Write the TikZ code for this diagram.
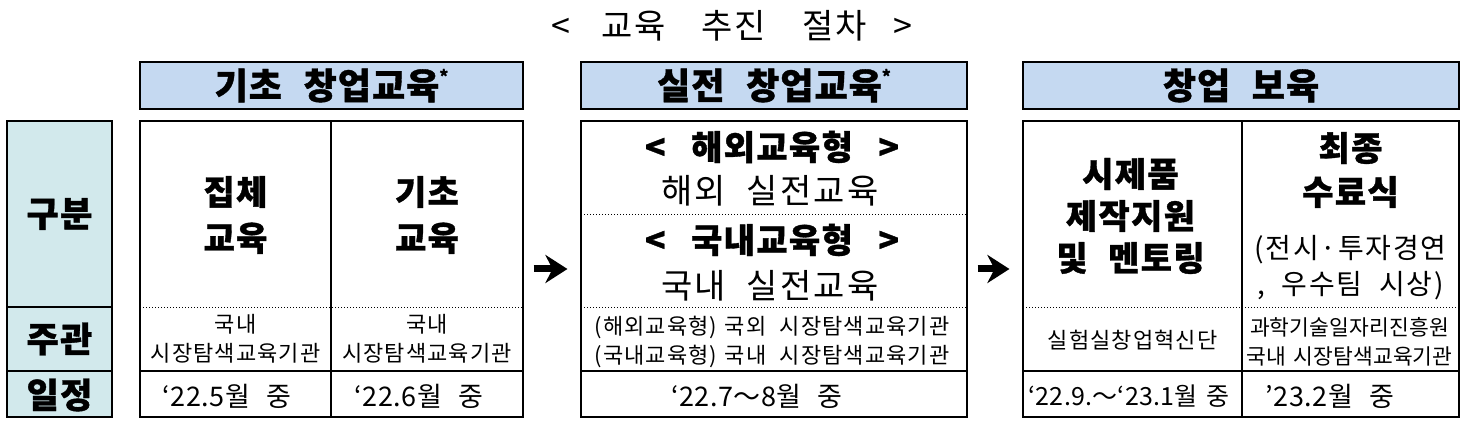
\documentclass[tikz,border=0pt]{standalone}
\usepackage{fontspec}
\setmainfont{Noto Sans CJK KR}
\usetikzlibrary{arrows.meta}
\definecolor{hdrblue}{HTML}{C5D9F1}
\definecolor{lblcyan}{HTML}{D2E9EC}
\newcommand\wsp{\hspace{0.35em}}
\newcommand\wwsp{\hspace{0.6em}}
\newcommand\smallstar{\raisebox{0.45em}{\fontsize{17}{17}\selectfont *}}
\begin{document}
\begin{tikzpicture}[x=1pt,y=-1pt,
  frame/.style={draw=black, line width=1.1pt, inner sep=0pt},
  hdrbox/.style={frame, fill=hdrblue, minimum height=47pt, font=\fontsize{36}{40}\selectfont\bfseries\addfontfeatures{LetterSpace=3,FakeBold=1}},
  secbox/.style={frame, minimum height=296pt},
  divline/.style={line width=1.1pt},
  dotline/.style={line width=0.8pt, dash pattern=on 1.2pt off 1.8pt},
  lbl/.style={inner sep=0pt, font=\fontsize{35}{40}\selectfont\bfseries\addfontfeatures{LetterSpace=4,FakeBold=1}},
  big/.style={inner sep=0pt, align=center, font=\fontsize{34}{46}\selectfont\bfseries\addfontfeatures{LetterSpace=4,FakeBold=1}},
  mid/.style={inner sep=0pt, align=center, font=\fontsize{34}{36}\selectfont\addfontfeatures{LetterSpace=7}},
  sm/.style={inner sep=0pt, align=center, font=\fontsize{22}{29}\selectfont\addfontfeatures{LetterSpace=5}},
  datef/.style={inner sep=0pt, font=\fontsize{27}{28}\selectfont\addfontfeatures{LetterSpace=2}},
  titlef/.style={inner sep=0pt, font=\fontsize{34}{36}\selectfont\addfontfeatures{LetterSpace=5}},
  bigarrow/.style={line width=7pt, -{Stealth[length=22pt, width=28pt, inset=7pt]}, shorten <=10pt, shorten >=13pt}
]
\useasboundingbox (0,0) rectangle (1468,427);
% title
\node[titlef] (title) at (732,26) {<\hspace{31pt}교육\hspace{36pt}추진\hspace{36pt}절차\hspace{27pt}>};
% headers
\node[hdrbox, minimum width=383pt] (h1) at (331.5,85.5) {기초\wwsp 창업교육\smallstar};
\node[hdrbox, minimum width=386pt] (h2) at (774,85.5) {실전\wwsp 창업교육\smallstar};
\node[hdrbox, minimum width=436pt] (h3) at (1241,85.5) {창업\wwsp 보육};
% left label column
\node[secbox, fill=lblcyan, minimum width=105pt] (lab) at (59.5,269) {};
\draw[divline] (7,307) -- (112,307);
\draw[divline] (7,371) -- (112,371);
\node[lbl] (l1) at (59.5,214) {구분};
\node[lbl] (l2) at (59.5,339) {주관};
\node[lbl] (l3) at (59.5,395) {일정};
% section boxes
\node[secbox, minimum width=383pt] (s1) at (331.5,269) {};
\node[secbox, minimum width=386pt] (s2) at (774,269) {};
\node[secbox, minimum width=436pt] (s3) at (1241,269) {};
% section 1 lines
\draw[divline] (331,121) -- (331,417);
\draw[dotline] (140,307) -- (523,307);
\draw[divline] (140,371) -- (523,371);
% section 2 lines
\draw[dotline] (581,214) -- (967,214);
\draw[dotline] (581,307) -- (967,307);
\draw[divline] (581,371) -- (967,371);
% section 3 lines
\draw[divline] (1242,121) -- (1242,417);
\draw[dotline] (1023,307) -- (1459,307);
\draw[divline] (1023,371) -- (1459,371);
% section 1 text
\node[big] (a1) at (235.5,215) {집체\\교육};
\node[big] (a2) at (427,215) {기초\\교육};
\node[sm] (a3) at (235.5,339) {국내\\시장탐색교육기관};
\node[sm] (a4) at (427,339) {국내\\시장탐색교육기관};
\node[datef] (a5) at (227,396) {‘22.5월\wwsp 중};
\node[datef] (a6) at (419,396) {‘22.6월\wwsp 중};
% section 2 text
\node[big] (b1) at (772,147) {<\hspace{0.75em}해외교육형\hspace{0.75em}>};
\node[mid] (b2) at (770,191) {해외\wwsp 실전교육};
\node[big] (b3) at (772,240) {<\hspace{0.75em}국내교육형\hspace{0.75em}>};
\node[mid] (b4) at (770,286) {국내\wwsp 실전교육};
\node[sm] (b5) at (772,342) {(해외교육형)\wsp 국외\wwsp 시장탐색교육기관\\(국내교육형)\wsp 국내\wwsp 시장탐색교육기관};
\node[datef] (b6) at (757,396) {‘22.7～8월\wwsp 중};
% section 3 text
\node[big, font=\fontsize{34}{42}\selectfont\bfseries\addfontfeatures{LetterSpace=4,FakeBold=1}] (c1) at (1130.5,216) {시제품\\제작지원\\및\wwsp 멘토링};
\node[big, font=\fontsize{34}{44}\selectfont\bfseries\addfontfeatures{LetterSpace=4,FakeBold=1}] (c2) at (1350.5,170) {최종\\수료식};
\node[mid, font=\fontsize{28}{36}\selectfont\addfontfeatures{LetterSpace=6}] (c3) at (1350.5,268) {(전시·투자경연\\,\wwsp 우수팀\wwsp 시상)};
\node[sm] (c4) at (1132.5,340) {실험실창업혁신단};
\node[sm, font=\fontsize{21.5}{29}\selectfont\addfontfeatures{LetterSpace=0.5}] (c5) at (1349.5,342) {과학기술일자리진흥원\\국내\wsp 시장탐색교육기관};
\node[datef, font=\fontsize{25}{28}\selectfont\addfontfeatures{LetterSpace=1}] (c6) at (1129,396) {‘22.9.～‘23.1월\wsp 중};
\node[datef] (c7) at (1330,396) {’23.2월\wwsp 중};
% arrows
\draw[bigarrow] (s1.east) -- (s2.west);
\draw[bigarrow] (s2.east) -- (s3.west);
\end{tikzpicture}
\end{document}
